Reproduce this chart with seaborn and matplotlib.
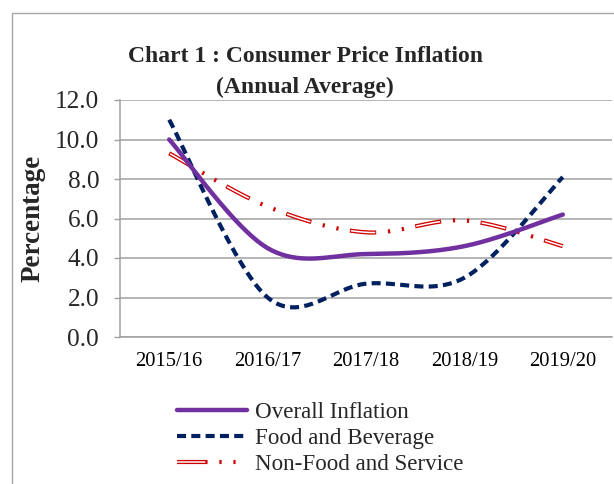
import numpy as np
import pandas as pd
import matplotlib
matplotlib.use('Agg')
import matplotlib.pyplot as plt
import seaborn as sns
from matplotlib.lines import Line2D
from matplotlib.patches import Rectangle
from matplotlib.legend_handler import HandlerTuple

# data
years = ['2015/16', '2016/17', '2017/18', '2018/19', '2019/20']
overall = [10.0, 4.5, 4.2, 4.6, 6.2]
food = [11.0, 2.0, 2.7, 3.0, 8.1]
non_food = [9.3, 6.6, 5.3, 5.9, 4.6]
y_ticks = [0, 2, 4, 6, 8, 10, 12]

PURPLE = '#7030a0'
NAVY = '#002060'
RED = '#d00000'
GRID = '#a0a0a0'


# Excel style "smoothed line" (Catmull-Rom through the points)
def smooth_line(values, steps=40):
    pts = np.column_stack([np.arange(len(values)), np.array(values, dtype=float)])
    out = []
    for i in range(len(pts) - 1):
        p0 = pts[i - 1] if i > 0 else pts[i]
        p1, p2 = pts[i], pts[i + 1]
        p3 = pts[i + 2] if i + 2 < len(pts) else pts[i + 1]
        m1 = (p2 - p0) / 2
        m2 = (p3 - p1) / 2
        t = np.linspace(0, 1, steps, endpoint=(i == len(pts) - 2))[:, None]
        h00 = 2 * t**3 - 3 * t**2 + 1
        h10 = t**3 - 2 * t**2 + t
        h01 = -2 * t**3 + 3 * t**2
        h11 = t**3 - t**2
        out.append(h00 * p1 + h10 * m1 + h01 * p2 + h11 * m2)
    out = np.vstack(out)
    return pd.DataFrame({'x': out[:, 0], 'y': out[:, 1]})


sns.set_theme(style='white')
plt.rcParams['font.family'] = ['Liberation Serif', 'DejaVu Serif']
plt.rcParams['lines.scale_dashes'] = False

fig = plt.figure(figsize=(6.14, 4.84), dpi=100)
ax = fig.add_axes([120 / 614, 1 - 337 / 484, 492 / 614, 237 / 484])

# non-food: red outlined long dash + two dots
nf = smooth_line(non_food)
red_ls = (0, (19, 8.5, 1.6, 8.5, 1.6, 8.3))
white_ls = (46.8, (17.6, 29.9))
sns.lineplot(data=nf, x='x', y='y', ax=ax, sort=False, estimator=None,
             color=RED, linewidth=3.0, linestyle=red_ls, dash_capstyle='butt', zorder=3)
sns.lineplot(data=nf, x='x', y='y', ax=ax, sort=False, estimator=None,
             color='white', linewidth=1.1, linestyle=white_ls, dash_capstyle='butt', zorder=3.1)

# food and beverage
fd = smooth_line(food)
sns.lineplot(data=fd, x='x', y='y', ax=ax, sort=False, estimator=None,
             color=NAVY, linewidth=3.0, linestyle=(0, (6.5, 3.8)), dash_capstyle='butt', zorder=4)

# overall inflation
ov = smooth_line(overall)
sns.lineplot(data=ov, x='x', y='y', ax=ax, sort=False, estimator=None,
             color=PURPLE, linewidth=3.2, zorder=5)

ax.set_xlim(-0.5, len(years) - 0.5)
ax.set_ylim(0, 12)
ax.set_xticks(range(len(years)))
ax.set_xticklabels(years, fontsize=14.8)
ax.set_yticks(y_ticks)
ax.set_yticklabels([f'{v:.1f}' for v in y_ticks], fontsize=18.2)
ax.set_xlabel('')
ax.set_ylabel('')
ax.tick_params(axis='x', length=0, pad=10.5, colors='black')
ax.tick_params(axis='y', length=4, width=1, color=GRID, pad=11, direction='out', left=True)
ax.grid(axis='y', color=GRID, linewidth=1.1)
ax.set_axisbelow(True)
for side in ['top', 'right']:
    ax.spines[side].set_visible(False)
for side in ['left', 'bottom']:
    ax.spines[side].set_color(GRID)
    ax.spines[side].set_linewidth(1.1)

# titles
fig.text(305 / 614, 1 - 62 / 484, 'Chart 1 : Consumer Price Inflation',
         ha='center', va='baseline', fontsize=17, fontweight='bold')
fig.text(305 / 614, 1 - 93 / 484, '(Annual Average)',
         ha='center', va='baseline', fontsize=17, fontweight='bold')
fig.text(33 / 614, 1 - 218 / 484, 'Percentage', rotation=90,
         ha='center', va='center', fontsize=19.5, fontweight='bold')

# legend
h_overall = Line2D([], [], color=PURPLE, linewidth=3.2)
h_food = Line2D([], [], color=NAVY, linewidth=3.0, linestyle=(0, (6.5, 3.8)), dash_capstyle='butt')
h_red = Line2D([], [], color=RED, linewidth=3.0, linestyle=(0, (22, 8.5, 1.6, 8.5, 1.6, 8.3)),
               dash_capstyle='butt')
h_white = Line2D([], [], color='white', linewidth=1.1, linestyle=(50.8, (20.6, 30.0)),
                 dash_capstyle='butt')
fig.legend([h_overall, h_food, (h_red, h_white)],
           ['Overall Inflation', 'Food and Beverage', 'Non-Food and Service'],
           handler_map={tuple: HandlerTuple(ndivide=1)},
           loc='center left', bbox_to_anchor=(177 / 614, 1 - 438.5 / 484),
           frameon=False, borderpad=0, borderaxespad=0, fontsize=16.6,
           handlelength=3.05, handletextpad=0.33, labelspacing=0.2)

# outer chart border
fig.add_artist(Rectangle((12 / 614, -0.1), 1.2, 1.1 - 13 / 484, transform=fig.transFigure,
                         fill=False, edgecolor='#a6a6a6', linewidth=1.0))

fig.savefig('out.png', dpi=100)
